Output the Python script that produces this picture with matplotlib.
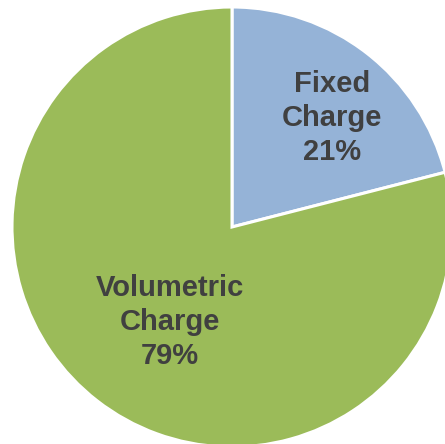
import matplotlib
matplotlib.use("Agg")
import matplotlib.pyplot as plt

labels = ["Fixed\nCharge", "Volumetric\nCharge"]
values = [21, 79]
colors = ["#95B3D7", "#9BBB59"]

W, H = 445, 444
cx, cy, R = 232, 227, 220

fig = plt.figure(figsize=(W / 100, H / 100), dpi=100)
ax = fig.add_axes([0, 0, 1, 1])
ax.pie(values, colors=colors, startangle=90, counterclock=False, radius=1,
       wedgeprops=dict(edgecolor="white", linewidth=2.2))
ax.set_xlim(-cx / R, (W - cx) / R)
ax.set_ylim((cy - H) / R, cy / R)
ax.set_aspect("equal")
ax.axis("off")

pos = [(332, 118), (170, 322)]
for (px, py), lab, v in zip(pos, labels, values):
    ax.text((px - cx) / R, (cy - py) / R, f"{lab}\n{v}%", ha="center", va="center",
            fontsize=21, fontweight="bold", color="#404040",
            family="Liberation Sans", linespacing=1.28)

fig.savefig("out.png", dpi=100)
